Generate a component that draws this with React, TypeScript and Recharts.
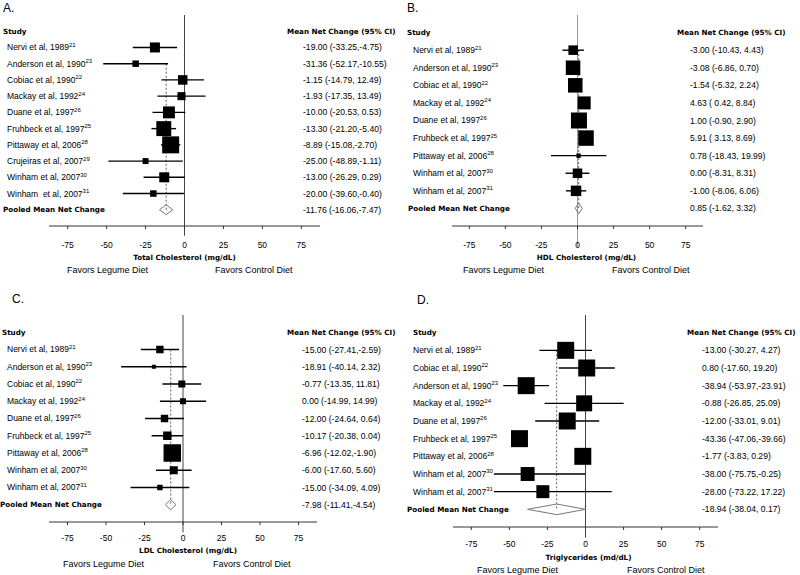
import React from "react";
import { ScatterChart, Scatter, XAxis, YAxis, ZAxis, ErrorBar, ReferenceLine } from "recharts";

const FONT = "'Liberation Sans', Arial, sans-serif";
const BOLD = "'DejaVu Sans', 'Liberation Sans', sans-serif";
const BOLD_SIZE = 7.2;

// A. Total cholesterol
const aStudies = ["Nervi et al, 1989", "Anderson et al, 1990", "Cobiac et al, 1990", "Mackay et al, 1992", "Duane et al, 1997", "Fruhbeck et al, 1997", "Pittaway et al, 2006", "Crujeiras et al, 2007", "Winham et al, 2007", "Winham  et al, 2007"];
const aRefs = ["21", "23", "22", "24", "26", "25", "28", "29", "30", "31"];
const aMean = [-19.0, -31.36, -1.15, -1.93, -10.0, -13.3, -8.89, -25.0, -13.0, -20.0];
const aLow = [-33.25, -52.17, -14.79, -17.35, -20.53, -21.2, -15.08, -48.89, -26.29, -39.6];
const aHigh = [-4.75, -10.55, 12.49, 13.49, 0.53, -5.4, -2.7, -1.11, 0.29, -0.4];
const aWeight = [31, 13, 28, 20, 44, 69, 89, 11, 31, 13];
const aPooled = [-11.76, -16.06, -7.47];

// B. HDL cholesterol
const bStudies = ["Nervi et al, 1989", "Anderson et al, 1990", "Cobiac et al, 1990", "Mackay et al, 1992", "Duane et al, 1997", "Fruhbeck et al, 1997", "Pittaway et al, 2006", "Winham et al, 2007", "Winham et al, 2007"];
const bRefs = ["21", "23", "22", "24", "26", "25", "28", "30", "31"];
const bMean = [-3.0, -3.08, -1.54, 4.63, 1.0, 5.91, 0.78, 0.0, -1.0];
const bLow = [-10.43, -6.86, -5.32, 0.42, -0.9, 3.13, -18.43, -8.31, -8.06];
const bHigh = [4.43, 0.7, 2.24, 8.84, 2.9, 8.69, 19.99, 8.31, 6.06];
const bWeight = [28, 65, 65, 52, 79, 74, 6, 28, 34];
const bPooled = [0.85, -1.62, 3.32];

// C. LDL cholesterol
const cStudies = ["Nervi et al, 1989", "Anderson et al, 1990", "Cobiac et al, 1990", "Mackay et al, 1992", "Duane et al, 1997", "Fruhbeck et al, 1997", "Pittaway et al, 2006", "Winham et al, 2007", "Winham et al, 2007"];
const cRefs = ["21", "23", "22", "24", "26", "25", "28", "30", "31"];
const cMean = [-15.0, -18.91, -0.77, 0.0, -12.0, -10.17, -6.96, -6.0, -15.0];
const cLow = [-27.41, -40.14, -13.35, -14.99, -24.64, -20.38, -12.02, -17.6, -34.09];
const cHigh = [-2.59, 2.32, 11.81, 14.99, 0.64, 0.04, -1.9, 5.6, 4.09];
const cWeight = [17, 5, 15, 11, 17, 22, 94, 20, 9];
const cPooled = [-7.98, -11.41, -4.54];

// D. Triglycerides
const dStudies = ["Nervi et al, 1989", "Cobiac et al, 1990", "Anderson et al, 1990", "Mackay et al, 1992", "Duane et al, 1997", "Fruhbeck et al, 1997", "Pittaway et al, 2006", "Winham et al, 2007", "Winham et al, 2007"];
const dRefs = ["21", "22", "23", "24", "26", "25", "28", "30", "31"];
const dMean = [-13.0, 0.8, -38.94, -0.88, -12.0, -43.36, -1.77, -38.0, -28.0];
const dLow = [-30.27, -17.6, -53.97, -26.85, -33.01, -47.06, -3.83, -75.75, -73.22];
const dHigh = [4.27, 19.2, -23.91, 25.09, 9.01, -39.66, 0.29, -0.25, 17.22];
const dWeight = [89, 89, 89, 79, 89, 89, 89, 60, 52];
const dPooled = [-18.94, -38.04, 0.17];

const xTicks = [-75, -50, -25, 0, 25, 50, 75];
const DIAMOND_H = 0.3;

let ctx: CanvasRenderingContext2D | null = null;
function measure(s: string, font: string) {
  if (!ctx) ctx = document.createElement("canvas").getContext("2d");
  if (!ctx) return s.length * 4.5;
  ctx.font = font;
  return ctx.measureText(s).width;
}

const pad = (v: number) => (v < 0 ? v.toFixed(2) : " " + v.toFixed(2));
const ciText = (m: number, lo: number, hi: number) => `${m.toFixed(2)} (${pad(lo)},${pad(hi)})`;
const empty = () => <g />;

function Panel(p: any) {
  const n = p.studies.length;
  const N = n + 1;
  const rows = p.mean.map((m: number, i: number) => ({
    x: m,
    y: i + 1,
    w: p.weight[i],
    err: [m - p.low[i], p.high[i] - m],
  }));
  const [pm, plo, phi] = p.pooled;
  const diamond = [
    { x: plo, y: N },
    { x: pm, y: N - DIAMOND_H },
    { x: phi, y: N },
    { x: pm, y: N + DIAMOND_H },
    { x: plo, y: N },
  ];
  const rowTicks = Array.from({ length: N + 1 }, (_, i) => i);
  const marginBottom = p.height - p.plotBottom - p.xAxisH;

  const leftTick = (t: any) => {
    const v = t.payload.value;
    const y = t.y;
    if (v === 0)
      return <text x={p.headX} y={y} dy="0.35em" fontSize={BOLD_SIZE} fontFamily={BOLD} fontWeight="bold" fill="#000">Study</text>;
    if (v === N)
      return <text x={p.pooledX} y={y} dy="0.35em" fontSize={BOLD_SIZE} fontFamily={BOLD} fontWeight="bold" fill="#000">Pooled Mean Net Change</text>;
    const name = p.studies[v - 1];
    const ref = p.refs[v - 1];
    const w = measure(name, `8.5px ${FONT}`) + measure(ref, `6px ${FONT}`);
    return (
      <g>
        <rect x={p.nameX - 1} y={y - 6} width={w + 2} height={12} fill="#fff" />
        <text x={p.nameX} y={y} dy="0.35em" fontSize={8.5} fill="#000" style={{ whiteSpace: "pre" }}>
          {name}
          <tspan dy={-3.5} fontSize={6}>{ref}</tspan>
        </text>
      </g>
    );
  };

  const rightTick = (t: any) => {
    const v = t.payload.value;
    const y = t.y;
    if (v === 0)
      return <text x={p.ciHeadX} y={y} dy="0.35em" fontSize={BOLD_SIZE} fontFamily={BOLD} fontWeight="bold" fill="#000">Mean Net Change (95% CI)</text>;
    const txt = v === N ? ciText(pm, plo, phi) : ciText(p.mean[v - 1], p.low[v - 1], p.high[v - 1]);
    return <text x={p.ciX} y={y} dy="0.35em" fontSize={8.6} fill="#000" style={{ whiteSpace: "pre" }}>{txt}</text>;
  };

  return (
    <div style={{ position: "absolute", left: p.left, top: p.top, width: 400, height: p.height }}>
      <ScatterChart
        width={400}
        height={p.height}
        margin={{ top: p.plotTop, right: 0, bottom: marginBottom, left: 0 }}
      >
        <XAxis
          type="number"
          dataKey="x"
          domain={[-87, 87]}
          allowDataOverflow
          ticks={xTicks}
          interval={0}
          tickSize={3}
          tickMargin={p.tickGap}
          height={p.xAxisH}
          stroke="#333"
          tick={{ fontSize: 8.5, fill: "#000" }}
          label={{ value: p.title, position: "insideBottom", offset: 0, dx: p.titleDx, style: { fontWeight: "bold", fontFamily: BOLD, fontSize: BOLD_SIZE, fill: "#000" } }}
        />
        <YAxis
          yAxisId="L"
          type="number"
          dataKey="y"
          domain={[-1, N + 1]}
          reversed
          ticks={rowTicks}
          interval={0}
          width={p.plotLeft}
          axisLine={false}
          tickLine={false}
          tick={false}
        />
        <YAxis
          yAxisId="R"
          orientation="right"
          type="number"
          dataKey="y"
          domain={[-1, N + 1]}
          reversed
          ticks={rowTicks}
          interval={0}
          width={400 - p.plotRight}
          axisLine={false}
          tickLine={false}
          tick={rightTick}
        />
        <ZAxis dataKey="w" type="number" domain={[0, 100]} range={[0, 324]} />
        <ReferenceLine
          yAxisId="L"
          segment={[{ x: 0, y: -1 }, { x: 0, y: N + 1 + p.zeroExtra }]}
          ifOverflow="visible"
          stroke={p.zeroColor}
          strokeWidth={1}
        />
        <ReferenceLine
          yAxisId="L"
          segment={[{ x: pm, y: p.dashFrom }, { x: pm, y: N }]}
          stroke="#333"
          strokeWidth={0.8}
          strokeDasharray="2 2"
        />
        <Scatter yAxisId="L" data={rows} shape="square" fill="#000" isAnimationActive={false}>
          <ErrorBar dataKey="err" direction="x" width={0} stroke="#000" strokeWidth={1.4} />
        </Scatter>
        <Scatter
          yAxisId="L"
          data={diamond}
          line={{ stroke: "#777", strokeWidth: 1, fill: "none" }}
          lineJointType="linear"
          shape={empty}
          isAnimationActive={false}
        />
        {/* keeps the right-hand CI column axis alive */}
        <Scatter yAxisId="R" data={rows} shape={empty} isAnimationActive={false} />
      </ScatterChart>

      {/* study labels drawn on top so long whiskers pass under them */}
      <div style={{ position: "absolute", left: 0, top: 0, pointerEvents: "none" }}>
        <ScatterChart
          width={400}
          height={p.height}
          margin={{ top: p.plotTop, right: 400 - p.plotRight, bottom: p.height - p.plotBottom, left: 0 }}
        >
          <XAxis type="number" dataKey="x" domain={[-87, 87]} allowDataOverflow hide />
          <YAxis
            yAxisId="L"
            type="number"
            dataKey="y"
            domain={[-1, N + 1]}
            reversed
            ticks={rowTicks}
            interval={0}
            width={p.plotLeft}
            axisLine={false}
            tickLine={false}
            tick={leftTick}
          />
          <Scatter yAxisId="L" data={rows} shape={empty} isAnimationActive={false} />
        </ScatterChart>
      </div>

      <div style={{ position: "absolute", left: p.letterX, top: p.letterY, fontSize: 12, lineHeight: "12px" }}>{p.letter}</div>
      <div style={{ position: "absolute", left: p.favorsX[0], top: p.favorsY - 5, fontSize: 9, lineHeight: "10px", whiteSpace: "nowrap" }}>Favors Legume Diet</div>
      <div style={{ position: "absolute", left: p.favorsX[1], top: p.favorsY - 5, fontSize: 9, lineHeight: "10px", whiteSpace: "nowrap" }}>Favors Control Diet</div>
    </div>
  );
}

export default function App() {
  return (
    <div style={{ position: "absolute", left: 0, top: 0, width: 800, height: 575, background: "#fff", fontFamily: FONT, color: "#000" }}>
      <Panel
        letter="A." letterX={3} letterY={2}
        studies={aStudies} refs={aRefs} mean={aMean} low={aLow} high={aHigh} weight={aWeight} pooled={aPooled}
        title="Total Cholesterol (mg/dL)" titleDx={0}
        left={0} top={0} height={290} plotTop={15} plotBottom={226} plotLeft={49} plotRight={320}
        xAxisH={34} tickGap={13} nameX={7} headX={3} pooledX={3} ciX={303} ciHeadX={287}
        zeroColor="#444" zeroExtra={0.6} dashFrom={2} favorsX={[67, 215]} favorsY={270}
      />
      <Panel
        letter="B." letterX={7} letterY={2}
        studies={bStudies} refs={bRefs} mean={bMean} low={bLow} high={bHigh} weight={bWeight} pooled={bPooled}
        title="HDL Cholesterol (mg/dL)" titleDx={9}
        left={400} top={0} height={290} plotTop={15} plotBottom={226} plotLeft={52} plotRight={303}
        xAxisH={34} tickGap={13} nameX={13} headX={7} pooledX={8} ciX={290} ciHeadX={277}
        zeroColor="#999" zeroExtra={1.2} dashFrom={1} favorsX={[63, 212]} favorsY={270}
      />
      <Panel
        letter="C." letterX={12} letterY={3}
        studies={cStudies} refs={cRefs} mean={cMean} low={cLow} high={cHigh} weight={cWeight} pooled={cPooled}
        title="LDL Cholesterol (mg/dL)" titleDx={5}
        left={0} top={290} height={285} plotTop={25} plotBottom={232} plotLeft={49} plotRight={317}
        xAxisH={31} tickGap={10} nameX={7} headX={2} pooledX={0} ciX={302} ciHeadX={287}
        zeroColor="#444" zeroExtra={0.6} dashFrom={1} favorsX={[63, 213]} favorsY={274}
      />
      <Panel
        letter="D." letterX={17} letterY={4}
        studies={dStudies} refs={dRefs} mean={dMean} low={dLow} high={dHigh} weight={dWeight} pooled={dPooled}
        title="Triglycerides (md/dL)" titleDx={3}
        left={400} top={290} height={285} plotTop={25} plotBottom={237} plotLeft={53} plotRight={318}
        xAxisH={33} tickGap={11} nameX={13} headX={13} pooledX={7} ciX={302} ciHeadX={287}
        zeroColor="#444" zeroExtra={0.6} dashFrom={1} favorsX={[77, 227]} favorsY={280}
      />
    </div>
  );
}
